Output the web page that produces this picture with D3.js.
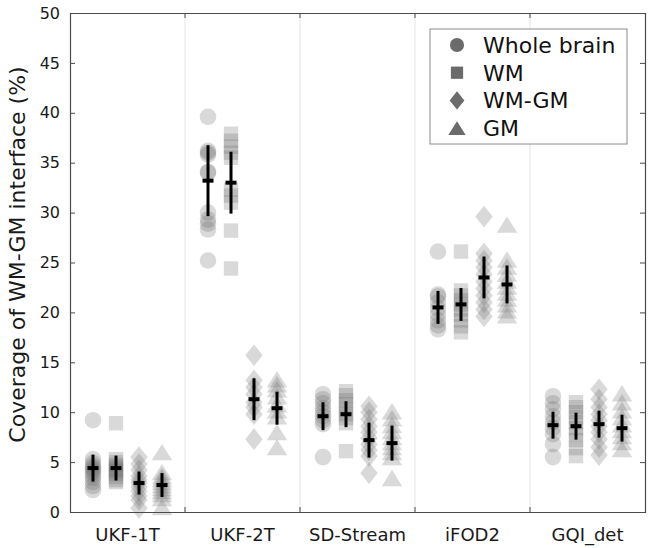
<!DOCTYPE html>
<html>
<head>
<meta charset="utf-8">
<script src="https://cdn.jsdelivr.net/npm/d3@7/dist/d3.min.js"></script>
<style>
  html, body { margin: 0; padding: 0; background: #fff; }
  svg { display: block; font-family: "DejaVu Sans", sans-serif; }
</style>
</head>
<body>
<svg id="chart" width="650" height="548"></svg>
<script>
// Tracking methods on the x axis, brain regions as the four series
const methods = ["UKF-1T", "UKF-2T", "SD-Stream", "iFOD2", "GQI_det"];
const regions = ["Whole brain", "WM", "WM-GM", "GM"];
const yTicks = [0, 5, 10, 15, 20, 25, 30, 35, 40, 45, 50];

// Per-subject coverage (%) for each method, one array per region
const wholeBrain = [
  [9.2, 5.3, 4.9, 4.6, 4.4, 4.2, 4.0, 3.7, 3.4, 3.0, 2.6, 2.2],
  [39.6, 36.2, 36.0, 35.8, 34.1, 34.0, 30.0, 29.3, 28.9, 28.3, 25.2],
  [11.8, 11.3, 10.9, 10.4, 10.0, 9.6, 9.2, 8.8, 5.5],
  [26.1, 21.8, 21.6, 21.0, 20.4, 19.8, 19.2, 18.7, 18.3],
  [11.6, 10.9, 10.3, 9.6, 9.0, 8.4, 7.8, 6.8, 5.5]
];
const wm = [
  [8.9, 5.3, 5.0, 4.7, 4.5, 4.3, 4.1, 3.8, 3.5, 3.2, 3.0],
  [37.9, 37.2, 36.6, 36.0, 35.5, 32.3, 31.7, 31.0, 28.2, 24.4],
  [12.1, 11.7, 11.2, 10.8, 10.3, 9.8, 9.4, 8.9, 6.1],
  [26.1, 22.2, 21.7, 21.2, 20.8, 20.3, 19.8, 19.2, 18.6, 18.0],
  [11.0, 10.5, 10.0, 9.5, 9.0, 8.4, 7.8, 7.2, 6.4, 5.6]
];
const wmgm = [
  [5.5, 4.8, 4.2, 3.6, 3.2, 2.9, 2.5, 2.1, 1.6, 1.2, 0.4],
  [15.7, 13.2, 12.5, 11.8, 11.0, 10.5, 9.8, 7.3],
  [10.6, 10.0, 9.3, 8.6, 8.0, 7.4, 6.8, 6.2, 5.6, 3.9],
  [29.6, 25.9, 25.2, 24.5, 23.8, 23.1, 22.4, 21.7, 21.0, 20.3, 19.6],
  [12.3, 11.3, 10.5, 9.8, 9.2, 8.6, 8.0, 7.3, 6.5, 5.7]
];
const gm = [
  [6.0, 4.0, 3.6, 3.3, 3.0, 2.7, 2.4, 2.1, 1.8, 1.4, 0.5],
  [13.3, 12.8, 12.3, 11.6, 10.8, 10.2, 9.6, 8.0, 6.5],
  [10.1, 9.4, 8.7, 8.1, 7.5, 7.0, 6.5, 6.0, 5.5, 3.4],
  [28.8, 25.3, 24.6, 23.9, 23.2, 22.6, 22.0, 21.4, 20.8, 20.2, 19.7],
  [11.9, 11.0, 10.2, 9.5, 8.8, 8.2, 7.6, 7.0, 6.3]
];

// Group mean and standard deviation per method
const wholeBrainMean = [4.4, 33.2, 9.6, 20.5, 8.7];
const wholeBrainSd   = [1.35, 3.55, 1.4, 1.65, 1.35];
const wmMean = [4.4, 33.0, 9.8, 20.8, 8.6];
const wmSd   = [1.25, 3.1, 1.3, 1.65, 1.35];
const wmgmMean = [2.9, 11.3, 7.2, 23.5, 8.8];
const wmgmSd   = [1.15, 2.1, 1.75, 2.1, 1.35];
const gmMean = [2.7, 10.4, 6.9, 22.8, 8.4];
const gmSd   = [1.2, 1.65, 1.75, 1.9, 1.35];

const seriesPoints = [wholeBrain, wm, wmgm, gm];
const seriesMean = [wholeBrainMean, wmMean, wmgmMean, gmMean];
const seriesSd = [wholeBrainSd, wmSd, wmgmSd, gmSd];

// Marker outlines, centred on the origin
function shapePath(kind, s) {
  const p = d3.path();
  if (kind === 0) {            // circle
    p.arc(0, 0, 8.3 * s, 0, 2 * Math.PI);
  } else if (kind === 1) {     // square
    const h = 7.2 * s;
    p.rect(-h, -h, 2 * h, 2 * h);
  } else if (kind === 2) {     // diamond
    const w = 8.7 * s, h = 10.8 * s;
    p.moveTo(0, -h); p.lineTo(w, 0); p.lineTo(0, h); p.lineTo(-w, 0); p.closePath();
  } else {                     // upward triangle
    const w = 10.2 * s, h = 8.2 * s;
    p.moveTo(0, -h); p.lineTo(w, h); p.lineTo(-w, h); p.closePath();
  }
  return p.toString();
}

const svg = d3.select("#chart");
const margin = { left: 70, top: 13, right: 5, bottom: 36 };
const W = 650 - margin.left - margin.right;
const H = 548 - margin.top - margin.bottom;

const x = d3.scaleBand().domain(methods).range([0, W]).paddingInner(0).paddingOuter(0);
const xs = d3.scalePoint().domain(regions).range([-34.5, 34.5]);
const y = d3.scaleLinear().domain([0, 50]).range([H, 0]);

const g = svg.append("g").attr("transform", `translate(${margin.left},${margin.top})`);

// Separators between method groups
g.append("g").selectAll("line")
  .data(methods.slice(1))
  .join("line")
  .attr("x1", d => x(d)).attr("x2", d => x(d))
  .attr("y1", 0).attr("y2", H)
  .attr("stroke", "#e3e3e3").attr("stroke-width", 1);

// Individual subjects
const pts = g.append("g");
regions.forEach((r, ri) => {
  methods.forEach((m, mi) => {
    pts.append("g")
      .selectAll("path")
      .data(seriesPoints[ri][mi])
      .join("path")
      .attr("d", shapePath(ri, 1))
      .attr("transform", v => `translate(${x(m) + x.bandwidth() / 2 + xs(r)},${y(v)})`)
      .attr("fill", "#666")
      .attr("fill-opacity", 0.25);
  });
});

// Mean ± SD crosses
const eb = g.append("g");
regions.forEach((r, ri) => {
  methods.forEach((m, mi) => {
    const cx = x(m) + x.bandwidth() / 2 + xs(r);
    const mu = seriesMean[ri][mi], sd = seriesSd[ri][mi];
    eb.append("line")
      .attr("x1", cx).attr("x2", cx)
      .attr("y1", y(mu + sd)).attr("y2", y(mu - sd))
      .attr("stroke", "#000").attr("stroke-width", 3);
    eb.append("line")
      .attr("x1", cx - 5.5).attr("x2", cx + 5.5)
      .attr("y1", y(mu)).attr("y2", y(mu))
      .attr("stroke", "#000").attr("stroke-width", 4);
  });
});

// Axes box
const axisColor = "#4a4a4a";
const yLeft = g.append("g").call(d3.axisLeft(y).tickValues(yTicks).tickSize(-5).tickPadding(10));
const yRight = g.append("g").attr("transform", `translate(${W},0)`)
  .call(d3.axisRight(y).tickValues(yTicks).tickSize(-5).tickFormat(""));
const xBottom = g.append("g").attr("transform", `translate(0,${H})`)
  .call(d3.axisBottom(x).tickSize(0).tickPadding(16));
const xTop = g.append("g").call(d3.axisTop(x).tickSize(0).tickFormat(""));

[yLeft, yRight, xBottom, xTop].forEach(a => {
  a.select(".domain").attr("stroke", axisColor).attr("stroke-width", 1.2);
  a.selectAll(".tick line").attr("stroke", axisColor);
  a.selectAll("text").attr("fill", "#1a1a1a").style("font-family", "DejaVu Sans");
});
yLeft.selectAll("text").style("font-size", "16px");
xBottom.selectAll("text").style("font-size", "18px");

// Tick marks at group boundaries on top and bottom edges
const bTicks = g.append("g");
methods.slice(1).forEach(m => {
  bTicks.append("line").attr("x1", x(m)).attr("x2", x(m)).attr("y1", H).attr("y2", H - 5)
    .attr("stroke", axisColor);
  bTicks.append("line").attr("x1", x(m)).attr("x2", x(m)).attr("y1", 0).attr("y2", 5)
    .attr("stroke", axisColor);
});

// Y axis title
svg.append("text")
  .attr("transform", `translate(25,${margin.top + H / 2 - 8}) rotate(-90)`)
  .attr("text-anchor", "middle")
  .style("font-size", "22px")
  .attr("fill", "#1a1a1a")
  .text("Coverage of WM-GM interface (%)");

// Legend
const lg = svg.append("g").attr("transform", "translate(430,29)");
lg.append("rect").attr("width", 197).attr("height", 115)
  .attr("fill", "#fff").attr("stroke", "#8c8c8c").attr("stroke-width", 1);
regions.forEach((r, ri) => {
  const row = lg.append("g").attr("transform", `translate(27,${16 + ri * 27.7})`);
  row.append("path").attr("d", shapePath(ri, 0.85)).attr("fill", "#6b6b6b");
  row.append("text").attr("x", 26).attr("y", 0).attr("dy", "0.36em")
    .style("font-size", "22px").attr("fill", "#111").text(r);
});
</script>
</body>
</html>
